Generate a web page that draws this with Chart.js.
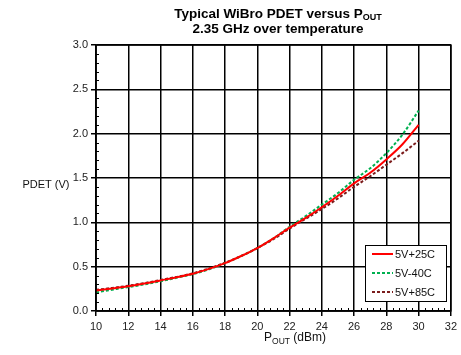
<!DOCTYPE html>
<html><head><meta charset="utf-8">
<script src="https://cdn.jsdelivr.net/npm/chart.js@4.4.1/dist/chart.umd.min.js"></script>
<style>html,body{margin:0;padding:0;background:#fff}#wrap{width:461px;height:355px;position:relative}</style>
</head><body><div id="wrap"><canvas id="c" width="461" height="355"></canvas></div>
<script>
// ---- data ----
const pout     = [10,11,12,13,14,15,16,17,18,19,20,21,22,23,24,25,26,27,28,29,30];
const pdet25   = [0.23,0.255,0.28,0.31,0.345,0.38,0.42,0.475,0.54,0.62,0.71,0.82,0.94,1.05,1.17,1.30,1.44,1.56,1.71,1.88,2.10];
const pdetM40  = [0.21,0.24,0.27,0.30,0.335,0.375,0.415,0.47,0.54,0.62,0.71,0.82,0.95,1.07,1.20,1.33,1.48,1.61,1.78,1.99,2.26];
const pdet85   = [0.24,0.26,0.285,0.315,0.35,0.385,0.425,0.48,0.545,0.62,0.71,0.81,0.93,1.04,1.15,1.27,1.40,1.52,1.65,1.78,1.92];
const seriesNames = ['5V+25C','5V-40C','5V+85C'];
const xTicks = [10,12,14,16,18,20,22,24,26,28,30,32];
const yTicks = [0,0.5,1.0,1.5,2.0,2.5,3.0];
const titleLine1 = 'Typical WiBro PDET versus P';
const titleSub = 'OUT';
const titleLine2 = '2.35 GHz over temperature';
const yTitle = 'PDET (V)';
const xTitleMain = 'P';
const xTitleSub = 'OUT';
const xTitleRest = ' (dBm)';

const FONT = "'Liberation Sans', Arial, sans-serif";
const NARROW = "'Liberation Sans Narrow', 'Liberation Sans', Arial, sans-serif";
const pts = arr => pout.map((x,i)=>({x:x, y:arr[i]}));

const decor = {
  id:'decor',
  afterDatasetsDraw(chart){
    const {ctx, chartArea:a, scales:{x, y}} = chart;
    ctx.save();
    ctx.strokeStyle='#000'; ctx.lineWidth=1.5;
    ctx.strokeRect(a.left, a.top, a.right-a.left, a.bottom-a.top);
    ctx.lineWidth=1;
    ctx.beginPath();
    for(let i=0;i<xTicks.length-1;i++){
      for(let k=1;k<5;k++){
        const v = xTicks[i] + (xTicks[i+1]-xTicks[i])*k/5;
        const px = Math.round(x.getPixelForValue(v))+0.5;
        ctx.moveTo(px, a.bottom); ctx.lineTo(px, a.bottom-3);
      }
    }
    for(let i=0;i<yTicks.length-1;i++){
      for(let k=1;k<5;k++){
        const v = yTicks[i] + (yTicks[i+1]-yTicks[i])*k/5;
        const py = Math.round(y.getPixelForValue(v))+0.5;
        ctx.moveTo(a.left, py); ctx.lineTo(a.left+3, py);
      }
    }
    ctx.stroke();
    ctx.restore();
  },
  afterDraw(chart){
    const {ctx} = chart;
    ctx.save();
    ctx.fillStyle='#000';
    ctx.textBaseline='middle';
    // title
    const cx = 278;
    const TF = "bold 13.5px " + FONT, SF = "bold 9px " + FONT;
    ctx.font = TF;
    const w1 = ctx.measureText(titleLine1).width;
    ctx.font = SF;
    const ws = ctx.measureText(titleSub).width;
    let sx = cx - (w1+ws)/2;
    ctx.font = TF;
    ctx.textAlign='left';
    ctx.fillText(titleLine1, sx, 14);
    ctx.font = SF;
    ctx.fillText(titleSub, sx+w1, 18);
    ctx.font = TF;
    ctx.textAlign='center';
    ctx.fillText(titleLine2, cx, 29);
    // y title
    ctx.font = "11px " + NARROW;
    ctx.fillStyle='#111';
    ctx.textAlign='center';
    ctx.fillText(yTitle, 46, 185);
    // x title
    const MF = "12px " + FONT, XS = "8.5px " + FONT;
    ctx.font = MF;
    const wm = ctx.measureText(xTitleMain).width;
    const wr = ctx.measureText(xTitleRest).width;
    ctx.font = XS;
    const wsub = ctx.measureText(xTitleSub).width;
    let tx = 295 - (wm+wsub+wr)/2;
    ctx.textAlign='left';
    ctx.font = MF;
    ctx.fillText(xTitleMain, tx, 338);
    ctx.font = XS;
    ctx.fillText(xTitleSub, tx+wm, 342);
    ctx.font = MF;
    ctx.fillText(xTitleRest, tx+wm+wsub, 338);
    // legend
    const lx=365, ly=245, lw=81, lh=56;
    ctx.fillStyle='#fff';
    ctx.fillRect(lx, ly, lw, lh);
    ctx.strokeStyle='#000'; ctx.lineWidth=1;
    ctx.strokeRect(lx+0.5, ly+0.5, lw, lh);
    const rows=[254,273,292];
    chart.data.datasets.forEach((ds,i)=>{
      ctx.strokeStyle = ds.borderColor;
      ctx.lineWidth = ds.borderWidth;
      ctx.setLineDash(ds.borderDash || []);
      ctx.beginPath(); ctx.moveTo(372, rows[i]); ctx.lineTo(393, rows[i]); ctx.stroke();
      ctx.setLineDash([]);
      ctx.fillStyle='#111';
      ctx.font = "11px " + FONT;
      ctx.textAlign='left';
      ctx.fillText(ds.label, 395, rows[i]+0.5);
    });
    ctx.restore();
  }
};

new Chart(document.getElementById('c'), {
  type:'line',
  data:{ datasets:[
    {label:seriesNames[0], data:pts(pdet25), borderColor:'#ff0000', borderWidth:2, pointRadius:0, cubicInterpolationMode:'monotone', fill:false},
    {label:seriesNames[1], data:pts(pdetM40), borderColor:'#00b050', borderWidth:2, borderDash:[3,2], pointRadius:0, cubicInterpolationMode:'monotone', fill:false},
    {label:seriesNames[2], data:pts(pdet85), borderColor:'#7b1c1c', borderWidth:2, borderDash:[3,2], pointRadius:0, cubicInterpolationMode:'monotone', fill:false}
  ]},
  options:{
    responsive:false, animation:false, devicePixelRatio:1,
    layout:{padding:{top:45, right:8, bottom:0, left:0}},
    plugins:{legend:{display:false}, title:{display:false}, tooltip:{enabled:false}},
    scales:{
      x:{type:'linear', min:10, max:32,
        afterBuildTicks(s){ s.ticks = xTicks.map(v=>({value:v})); },
        afterFit(s){ s.height = 44; },
        grid:{color:'#000', lineWidth:1.5, tickLength:5, drawTicks:true},
        border:{color:'#000', width:1.5},
        ticks:{font:{family:FONT, size:11}, color:'#222', padding:4, maxRotation:0, autoSkip:false}
      },
      y:{type:'linear', min:0, max:3,
        afterBuildTicks(s){ s.ticks = yTicks.map(v=>({value:v})); },
        afterFit(s){ s.width = 96; },
        grid:{color:'#000', lineWidth:1.5, tickLength:5, drawTicks:true},
        border:{color:'#000', width:1.5},
        ticks:{font:{family:FONT, size:11}, color:'#222', padding:3, callback:v=>Number(v).toFixed(1)}
      }
    }
  },
  plugins:[decor]
});
</script>
</body></html>
